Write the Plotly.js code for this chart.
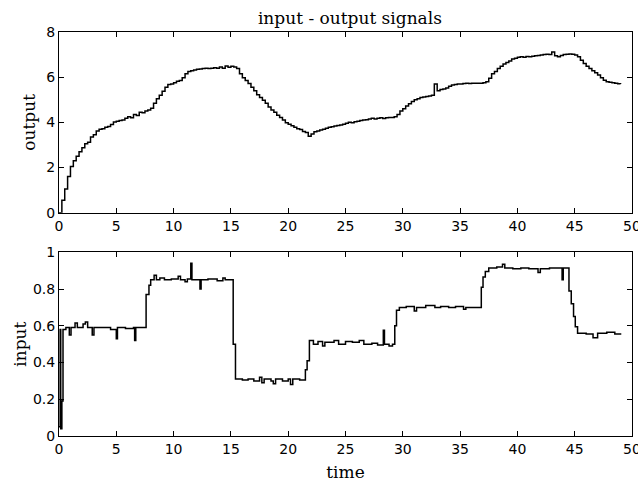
<!DOCTYPE html>
<html>
<head>
<meta charset="utf-8">
<script src="https://cdn.plot.ly/plotly-3.0.1.min.js"></script>
<style>html,body{margin:0;padding:0;background:#fff;}#chart{width:638px;height:487px;}</style>
</head>
<body>
<div id="chart"></div>
<script>
// Output signal: sampled every outStep time units, starting at outStart
const outStart = 0;
const outStep = 0.25;
const outputValues = [
  0.00,0.55,1.05,1.60,2.05,2.30,2.50,2.70,2.88,3.05,3.12,3.35,3.45,3.62,3.70,3.72,
  3.78,3.82,3.90,4.02,4.05,4.08,4.10,4.18,4.25,4.20,4.35,4.30,4.45,4.42,4.50,4.55,
  4.62,4.85,5.05,5.20,5.38,5.55,5.68,5.70,5.75,5.82,5.85,5.98,6.15,6.25,6.28,6.32,
  6.35,6.36,6.38,6.40,6.38,6.40,6.42,6.40,6.45,6.40,6.50,6.44,6.48,6.45,6.38,6.15,
  5.98,5.85,5.72,5.55,5.40,5.22,5.10,4.98,4.85,4.68,4.55,4.45,4.32,4.22,4.10,3.98,
  3.92,3.85,3.78,3.72,3.68,3.60,3.55,3.38,3.48,3.58,3.62,3.66,3.70,3.74,3.78,3.80,
  3.84,3.86,3.88,3.92,3.96,4.00,3.98,4.03,4.05,4.08,4.10,4.12,4.15,4.18,4.15,4.18,
  4.20,4.17,4.20,4.22,4.22,4.25,4.35,4.50,4.60,4.72,4.82,4.92,5.00,5.05,5.10,5.12,
  5.15,5.17,5.20,5.70,5.40,5.45,5.48,5.52,5.60,5.65,5.68,5.70,5.70,5.72,5.73,5.72,
  5.73,5.73,5.73,5.73,5.75,5.80,5.95,6.15,6.25,6.38,6.48,6.58,6.65,6.72,6.80,6.84,
  6.88,6.90,6.88,6.92,6.90,6.93,6.95,6.96,6.98,7.00,7.01,7.00,7.12,6.95,6.90,6.96,
  7.00,7.02,7.03,7.02,6.98,6.90,6.75,6.60,6.48,6.38,6.28,6.20,6.10,5.98,5.86,5.80,
  5.77,5.75,5.73,5.71,5.70
];
const outputTime = outputValues.map((_, i) => outStart + i * outStep);

// Input signal: change points (time, value)
const inputTime = [
  0,0.1,0.15,0.25,0.35,0.6,0.9,1.05,1.4,1.6,2.1,2.3,2.5,2.9,3.05,3.5,4.5,5.0,5.1,5.8,
  6.5,6.6,6.7,7.5,7.6,7.85,8.0,8.3,8.5,8.8,9.2,9.8,10.4,10.6,11.0,11.2,11.5,11.6,12.3,12.4,
  13.0,13.8,14.3,14.5,15.2,15.4,16.0,16.5,17.0,17.5,17.7,17.9,18.5,18.7,18.9,19.5,20.0,20.2,20.4,21.0,
  21.5,21.65,21.85,22.2,22.6,23.0,23.2,24.0,24.4,25.0,25.6,26.2,26.6,27.3,27.8,28.3,28.4,28.8,29.1,29.3,
  29.45,29.7,30.3,31.0,31.2,32.0,32.8,33.3,34.0,34.6,35.3,35.5,36.2,36.85,37.0,37.2,37.5,38.2,38.7,38.9,
  39.6,40.3,41.0,41.8,42.0,42.8,43.9,44.0,44.5,44.7,44.9,45.05,45.25,46.0,46.6,47.0,47.8,48.5,49.0
];
const inputValues = [
  0.05,0.58,0.04,0.19,0.58,0.59,0.55,0.59,0.615,0.59,0.61,0.62,0.59,0.55,0.59,0.59,0.58,0.53,0.59,0.585,
  0.59,0.52,0.59,0.59,0.77,0.82,0.85,0.875,0.85,0.86,0.85,0.855,0.87,0.85,0.84,0.855,0.94,0.85,0.80,0.85,
  0.855,0.845,0.86,0.85,0.50,0.31,0.305,0.31,0.30,0.32,0.29,0.31,0.30,0.285,0.31,0.30,0.31,0.28,0.31,0.305,
  0.36,0.41,0.52,0.50,0.515,0.49,0.51,0.52,0.50,0.515,0.51,0.52,0.50,0.505,0.495,0.575,0.50,0.49,0.50,0.60,
  0.685,0.70,0.705,0.68,0.70,0.71,0.70,0.705,0.70,0.705,0.69,0.70,0.70,0.81,0.865,0.895,0.915,0.92,0.935,0.915,
  0.91,0.915,0.91,0.89,0.91,0.915,0.85,0.915,0.79,0.72,0.65,0.595,0.56,0.555,0.535,0.56,0.565,0.555,0.56
];

const xTicks = [0,5,10,15,20,25,30,35,40,45,50];
const outTicks = [0,2,4,6,8];
const inTicks = [0,0.2,0.4,0.6,0.8,1];
const inTickText = ['0','0.2','0.4','0.6','0.8','1'];

const serif = 'DejaVu Serif, serif';
const sans = 'DejaVu Sans, sans-serif';

const traces = [
  {x: outputTime, y: outputValues, type: 'scatter', mode: 'lines',
   line: {color: '#000', width: 1.5, shape: 'hv'}, xaxis: 'x', yaxis: 'y', hoverinfo: 'skip'},
  {x: inputTime, y: inputValues, type: 'scatter', mode: 'lines',
   line: {color: '#000', width: 1.5, shape: 'hv'}, xaxis: 'x2', yaxis: 'y2', hoverinfo: 'skip'}
];

function xax(anchor, title) {
  const a = {
    range: [0, 50], tickvals: xTicks, ticktext: xTicks.map(String),
    ticks: 'inside', ticklen: 5, tickcolor: '#000', tickwidth: 1,
    showline: true, linecolor: '#000', linewidth: 1, mirror: 'ticks',
    showgrid: false, zeroline: false, anchor: anchor, domain: [0, 1],
    ticklabeloverflow: 'allow',
    tickfont: {family: sans, size: 14, color: '#000'}
  };
  if (title) a.title = {text: title, font: {family: serif, size: 17, color: '#000'}, standoff: 10};
  return a;
}
function yax(anchor, domain, range, vals, texts, title, standoff) {
  return {
    range: range, tickvals: vals, ticktext: texts,
    ticks: 'inside', ticklen: 5, tickcolor: '#000', tickwidth: 1,
    showline: true, linecolor: '#000', linewidth: 1, mirror: 'ticks',
    showgrid: false, zeroline: false, anchor: anchor, domain: domain,
    tickfont: {family: sans, size: 14, color: '#000'},
    title: {text: title, font: {family: serif, size: 17, color: '#000'}, standoff: standoff}
  };
}

const layout = {
  width: 638, height: 487,
  margin: {l: 59, r: 6, t: 32, b: 51},
  paper_bgcolor: '#fff', plot_bgcolor: '#fff',
  showlegend: false,
  title: {text: 'input - output signals', font: {family: serif, size: 17, color: '#000'},
          x: 0.5485, xanchor: 'center', y: 0.962, yanchor: 'middle'},
  xaxis: xax('y', null),
  yaxis: yax('x', [0.5527, 1], [0, 8], outTicks, outTicks.map(String), 'output', 6),
  xaxis2: xax('y2', 'time'),
  yaxis2: yax('x2', [0, 0.4547], [0, 1], inTicks, inTickText, 'input', 1)
};

Plotly.newPlot('chart', traces, layout, {staticPlot: true, displayModeBar: false});
</script>
</body>
</html>
